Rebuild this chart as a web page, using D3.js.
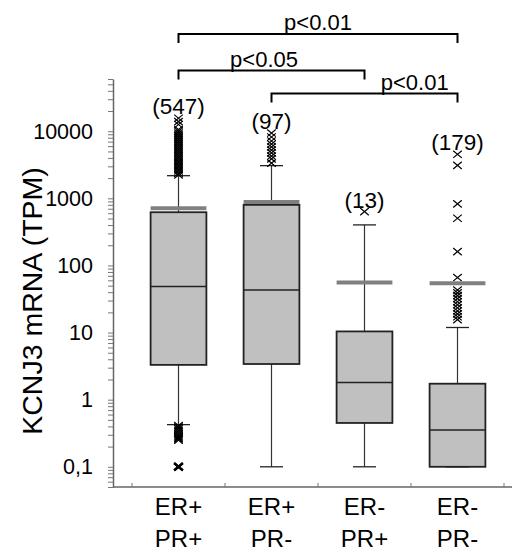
<!DOCTYPE html>
<html>
<head>
<meta charset="utf-8">
<script src="https://cdn.jsdelivr.net/npm/d3@7"></script>
<style>
  html, body { margin: 0; padding: 0; background: #fff; }
  svg { display: block; font-family: "Liberation Sans", Arial, sans-serif; }
</style>
</head>
<body>
<svg id="chart" width="519" height="552"></svg>
<script>
// ---------------- data ----------------
const categories = [["ER+", "PR+"], ["ER+", "PR-"], ["ER-", "PR+"], ["ER-", "PR-"]];
const counts = [547, 97, 13, 179];
const q1 = [3.3, 3.4, 0.45, 0.1];
const medians = [48.5, 42.9, 1.81, 0.353];
const q3 = [621, 800, 10.4, 1.73];
const whiskerLow = [0.425, 0.1, 0.1, 0.1];
const whiskerHigh = [2175, 3070, 402, 11.9];
const means = [710, 884, 55.7, 54.5];
const outliers1 = [2240, 2380, 2570, 2730, 2940, 3130, 3370, 3590, 3860, 4110, 4420, 4720, 5070, 5410, 5810, 6200, 6660, 7110, 7640, 8160, 8750, 9350, 10000, 10600, 12600, 13900, 15600,
                   0.41, 0.39, 0.37, 0.35, 0.33, 0.31, 0.29, 0.28, 0.27, 0.26, 0.25, 0.1, 0.1, 0.1];
const outliers2 = [3350, 3870, 4270, 4750, 5240, 5830, 6440, 7150, 8200, 9400];
const outliers3 = [635];
const outliers4 = [4530, 3100, 826, 505, 161, 66, 43, 39, 35.5, 32, 28.8, 26, 23.4, 21, 19, 17.2, 15.6];
const outliers = [outliers1, outliers2, outliers3, outliers4];
const yTickValues = [0.1, 1, 10, 100, 1000, 10000];
const yTickLabels = ["0,1", "1", "10", "100", "1000", "10000"];
const comparisons = [
  { from: 0, to: 3, label: "p<0.01" },
  { from: 0, to: 2, label: "p<0.05" },
  { from: 1, to: 3, label: "p<0.01" }
];
const yTitle = "KCNJ3 mRNA (TPM)";

// ---------------- layout ----------------
const svg = d3.select("#chart");
const axisX0 = 113, axisY0 = 487;
const x = d3.scaleBand().domain(d3.range(categories.length)).range([132, 504])
  .paddingInner(0.4).paddingOuter(0.2);
const y = d3.scaleLog().domain([0.05, 60000]).range([axisY0, 79]);
const cx = i => x(i) + x.bandwidth() / 2;

// y axis (log, with minor ticks)
const minor = [];
for (let e = -2; e <= 4; e++) for (let m = 1; m <= 9; m++) {
  const v = +(m * Math.pow(10, e)).toPrecision(3);
  if (v >= 0.05 && v <= 60000) minor.push(v);
}
const yAxis = d3.axisLeft(y).tickValues(minor).tickSize(5).tickSizeOuter(0).tickPadding(15)
  .tickFormat(v => { const k = yTickValues.findIndex(t => Math.abs(t - v) / t < 1e-6); return k >= 0 ? yTickLabels[k] : ""; });
const gy = svg.append("g").attr("transform", `translate(${axisX0},0)`).call(yAxis);
gy.select(".domain").attr("stroke", "#666").attr("stroke-width", 1.5);
gy.selectAll(".tick line").attr("stroke", "#777");
gy.selectAll(".tick text").attr("font-size", 21.5).attr("fill", "#000").attr("font-family", "Liberation Sans, Arial, sans-serif");

// x axis
const step = x.step();
const xr = x.range();
svg.append("line").attr("x1", axisX0).attr("x2", 512).attr("y1", axisY0).attr("y2", axisY0)
  .attr("stroke", "#666").attr("stroke-width", 1.5);
d3.range(categories.length + 1).forEach(i => {
  const tx = xr[0] + i * step;
  svg.append("line").attr("x1", tx).attr("x2", tx).attr("y1", axisY0).attr("y2", axisY0 - 4)
    .attr("stroke", "#777").attr("stroke-width", 1);
});
categories.forEach((c, i) => {
  c.forEach((line, j) => {
    svg.append("text").attr("x", cx(i)).attr("y", 515 + j * 32)
      .attr("text-anchor", "middle").attr("font-size", 24).attr("fill", "#000").text(line);
  });
});

// y title
svg.append("text").attr("transform", `translate(42,301) rotate(-90)`)
  .attr("text-anchor", "middle").attr("font-size", 28.5).attr("fill", "#000").text(yTitle);

// boxes
const capW = 23;
const g = svg.append("g");
categories.forEach((c, i) => {
  const c0 = cx(i);
  g.append("line").attr("x1", c0).attr("x2", c0).attr("y1", y(q3[i])).attr("y2", y(whiskerHigh[i])).attr("stroke", "#333").attr("stroke-width", 1.2);
  g.append("line").attr("x1", c0).attr("x2", c0).attr("y1", y(q1[i])).attr("y2", y(whiskerLow[i])).attr("stroke", "#333").attr("stroke-width", 1.2);
  g.append("line").attr("x1", c0 - capW / 2).attr("x2", c0 + capW / 2).attr("y1", y(whiskerHigh[i])).attr("y2", y(whiskerHigh[i])).attr("stroke", "#222").attr("stroke-width", 1.3);
  g.append("line").attr("x1", c0 - capW / 2).attr("x2", c0 + capW / 2).attr("y1", y(whiskerLow[i])).attr("y2", y(whiskerLow[i])).attr("stroke", "#222").attr("stroke-width", 1.3);
  g.append("rect").attr("x", x(i)).attr("width", x.bandwidth())
    .attr("y", y(q3[i])).attr("height", y(q1[i]) - y(q3[i]))
    .attr("fill", "#c0c0c0").attr("stroke", "#222").attr("stroke-width", 1.8);
  g.append("line").attr("x1", x(i)).attr("x2", x(i) + x.bandwidth()).attr("y1", y(medians[i])).attr("y2", y(medians[i]))
    .attr("stroke", "#222").attr("stroke-width", 1.5);
});
// outliers
categories.forEach((c, i) => {
  g.selectAll(null).data(outliers[i]).enter().append("path")
    .attr("transform", d => `translate(${cx(i)},${y(d)})`)
    .attr("d", "M-4.3,-3.6L4.3,3.6M-4.3,3.6L4.3,-3.6")
    .attr("stroke", "#000").attr("stroke-width", d => d <= 0.1 ? 2.2 : 1.2).attr("fill", "none");
});
// mean bars
categories.forEach((c, i) => {
  g.append("line").attr("x1", x(i)).attr("x2", x(i) + x.bandwidth()).attr("y1", y(means[i])).attr("y2", y(means[i]))
    .attr("stroke", "#808080").attr("stroke-width", 4);
});
// counts
categories.forEach((c, i) => {
  const top = d3.max([whiskerHigh[i], ...outliers[i]]);
  svg.append("text").attr("x", cx(i)).attr("y", y(top) - 4)
    .attr("text-anchor", "middle").attr("font-size", 22.5).attr("fill", "#000").text(`(${counts[i]})`);
});

// significance brackets
const bracketY = [34, 70.5, 93.5];
const labelFrac = [0.5, 0.46, 0.77];
comparisons.forEach((cmp, k) => {
  const xa = cx(cmp.from), xb = cx(cmp.to), by = bracketY[k];
  svg.append("path").attr("d", `M${xa},${by + 9}V${by}H${xb}V${by + 9}`)
    .attr("fill", "none").attr("stroke", "#000").attr("stroke-width", 2);
  svg.append("text").attr("x", xa + (xb - xa) * labelFrac[k]).attr("y", by - 4)
    .attr("text-anchor", "middle").attr("font-size", 22).attr("fill", "#000").text(cmp.label);
});
</script>
</body>
</html>
